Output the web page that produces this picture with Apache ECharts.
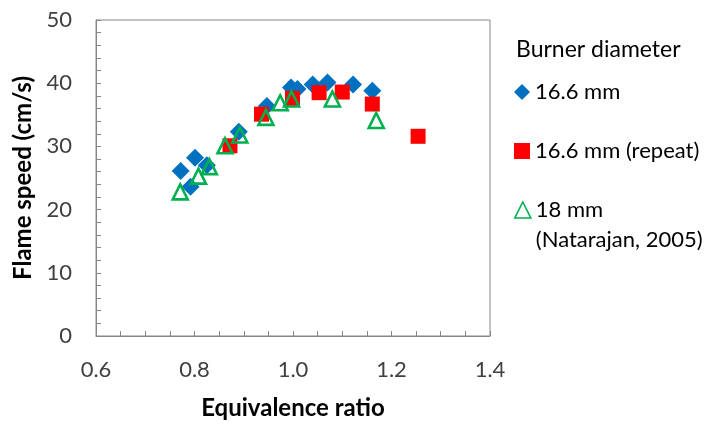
<!DOCTYPE html>
<html>
<head>
<meta charset="utf-8">
<script src="https://cdn.jsdelivr.net/npm/echarts@6/dist/echarts.min.js"></script>
<style>
  html, body { margin: 0; padding: 0; background: #fff; }
  #chart { width: 715px; height: 425px; }
</style>
</head>
<body>
<div id="chart"></div>
<script>
// Flame speed vs equivalence ratio for two burner diameters
const seriesNames = ['16.6 mm', '16.6 mm (repeat)', '18 mm\n(Natarajan, 2005)'];
const legendTitle = 'Burner diameter';

const burner166 = [
  [0.772, 26.1], [0.792, 23.6], [0.801, 28.2], [0.825, 27.0], [0.890, 32.3],
  [0.947, 36.4], [0.996, 39.3], [1.009, 39.1], [1.040, 39.8], [1.070, 40.1],
  [1.122, 39.8], [1.161, 38.8]
];
const burner166Repeat = [
  [0.872, 30.1], [0.936, 35.1], [0.999, 37.6], [1.053, 38.5], [1.100, 38.6],
  [1.161, 36.7], [1.254, 31.6]
];
const burner18 = [
  [0.771, 22.8], [0.808, 25.3], [0.830, 26.8], [0.862, 30.1], [0.892, 31.8],
  [0.945, 34.6], [0.974, 36.9], [0.997, 37.5], [1.080, 37.5], [1.169, 34.1]
];

const xTicks = { min: 0.6, max: 1.4, step: 0.2 };
const yTicks = { min: 0, max: 50, step: 10 };

const FONT = 'Lato, "Open Sans", sans-serif';
const AXIS_GREY = '#868686';
const chart = echarts.init(document.getElementById('chart'));

// one single-item legend per series so each row sits at its own height
function legendRow(name, top, extra) {
  return Object.assign({
    orient: 'vertical', left: 514, top: top, padding: 0,
    itemWidth: 16, itemHeight: 16,
    itemStyle: { borderWidth: 1.6 },
    textStyle: { fontFamily: FONT, fontSize: 22, color: '#000', lineHeight: 16 },
    data: [name]
  }, extra || {});
}

chart.setOption({
  animation: false,
  grid: {
    left: 96, top: 20, right: 225, bottom: 86,
    show: true, borderColor: AXIS_GREY, borderWidth: 1, backgroundColor: 'transparent'
  },
  xAxis: {
    type: 'value',
    min: xTicks.min, max: xTicks.max, interval: xTicks.step,
    name: 'Equivalence ratio',
    nameLocation: 'middle', nameGap: 60,
    nameTextStyle: { fontFamily: FONT, fontSize: 24, fontWeight: 'bold', color: '#000' },
    axisLine: { lineStyle: { color: AXIS_GREY, width: 1 } },
    axisTick: { inside: true, length: 5, lineStyle: { color: AXIS_GREY } },
    minorTick: { show: true, splitNumber: 4, length: 5, lineStyle: { color: AXIS_GREY } },
    splitLine: { show: false },
    axisLabel: {
      margin: 23, fontFamily: FONT, fontSize: 22, color: '#404040',
      formatter: v => v.toFixed(1)
    }
  },
  yAxis: {
    type: 'value',
    min: yTicks.min, max: yTicks.max, interval: yTicks.step,
    name: 'Flame speed (cm/s)',
    nameLocation: 'middle', nameGap: 60,
    nameTextStyle: { fontFamily: FONT, fontSize: 24, fontWeight: 'bold', color: '#000' },
    axisLine: { show: true, lineStyle: { color: AXIS_GREY, width: 1 } },
    axisTick: { show: true, inside: true, length: 5, lineStyle: { color: AXIS_GREY } },
    minorTick: { show: true, splitNumber: 5, length: 5, lineStyle: { color: AXIS_GREY } },
    splitLine: { show: false },
    axisLabel: { margin: 24, fontFamily: FONT, fontSize: 22, color: '#404040' }
  },
  legend: [
    legendRow(seriesNames[0], 81),
    legendRow(seriesNames[1], 140),
    // two-line label: a blank first line keeps the marker level with "18 mm"
    legendRow(seriesNames[2], 165, {
      formatter: n => '\n' + n,
      textStyle: { fontFamily: FONT, fontSize: 22, color: '#000', lineHeight: 30 }
    })
  ],
  graphic: [{
    type: 'text', left: 516, top: 38,
    style: { text: legendTitle, font: '23px ' + FONT, fill: '#000' }
  }],
  series: [
    {
      name: seriesNames[0], type: 'scatter', data: burner166,
      symbol: 'diamond', symbolSize: 18,
      itemStyle: { color: '#0070C0', opacity: 1 }
    },
    {
      name: seriesNames[1], type: 'scatter', data: burner166Repeat,
      symbol: 'rect', symbolSize: 15,
      itemStyle: { color: '#FF0000', opacity: 1 }
    },
    {
      name: seriesNames[2], type: 'scatter', data: burner18,
      symbol: 'triangle', symbolSize: 15,
      itemStyle: { color: 'transparent', borderColor: '#00B050', borderWidth: 2.6, opacity: 1 }
    }
  ]
});
</script>
</body>
</html>
